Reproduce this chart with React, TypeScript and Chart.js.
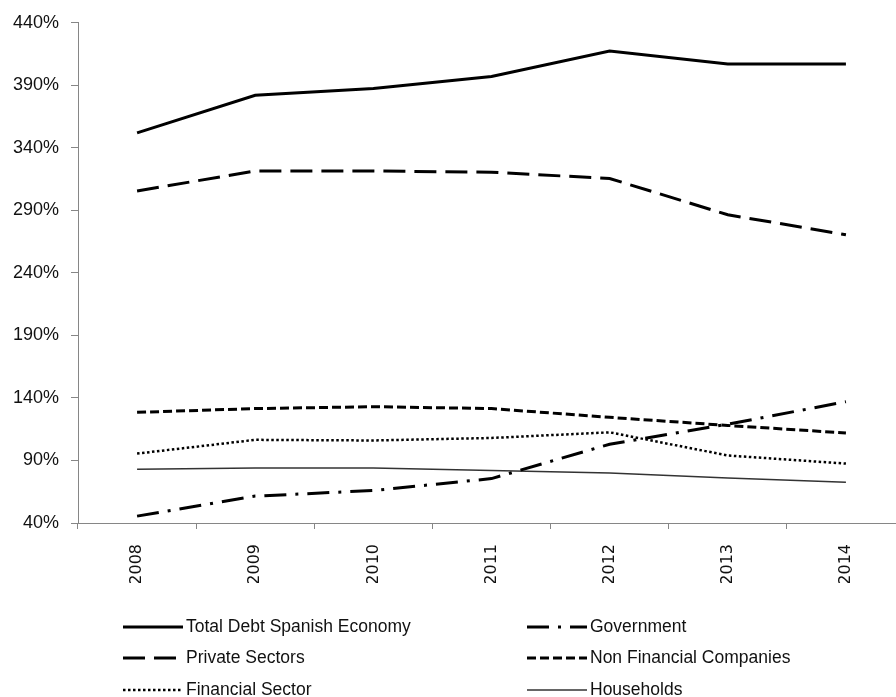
import { useEffect, useRef } from 'react';
import { Chart, registerables } from 'chart.js';

Chart.register(...registerables);

const years = ['2008', '2009', '2010', '2011', '2012', '2013', '2014'];
const totalDebt = [352, 382, 387.5, 397, 417.5, 407, 407];
const government = [45.5, 61.5, 66, 75.5, 103, 119, 137];
const privateSectors = [305.5, 321.5, 321.5, 320.5, 315.5, 286.5, 270.5];
const nonFinancial = [128.5, 131.5, 133, 131.5, 124.5, 118, 112];
const financial = [95.5, 106.5, 106, 108, 112.5, 94, 87.5];
const households = [83, 84, 84, 82, 80, 76, 72.5];

const seriesNames = [
  'Total Debt Spanish Economy',
  'Government',
  'Private Sectors',
  'Non Financial Companies',
  'Financial Sector',
  'Households',
];
const yTicks = [40, 90, 140, 190, 240, 290, 340, 390, 440];

const labelFont = '"Liberation Sans", Arial, sans-serif';

const legendPlugin = {
  id: 'customLegend',
  afterDraw(chart: any) {
    const ctx = chart.ctx as CanvasRenderingContext2D;
    const colLine = [123, 527];
    const rowY = [627, 658, 690];
    ctx.save();
    chart.data.datasets.forEach((ds: any, i: number) => {
      const col = i % 2;
      const row = Math.floor(i / 2);
      const x0 = colLine[col];
      const y = rowY[row];
      ctx.beginPath();
      ctx.setLineDash(ds.borderDash || []);
      ctx.lineWidth = ds.borderWidth;
      ctx.strokeStyle = ds.borderColor;
      ctx.lineCap = 'butt';
      ctx.moveTo(x0, y);
      ctx.lineTo(x0 + 60, y);
      ctx.stroke();
      ctx.setLineDash([]);
      ctx.fillStyle = '#111';
      ctx.font = `17.5px ${labelFont}`;
      ctx.textBaseline = 'middle';
      ctx.textAlign = 'left';
      ctx.fillText(ds.label, x0 + 63, y);
    });
    ctx.restore();
  },
};

export default function App() {
  const ref = useRef<HTMLCanvasElement>(null);
  useEffect(() => {
    document.body.style.margin = '0';
    const chart = new Chart(ref.current!, {
      type: 'line',
      data: {
        labels: years,
        datasets: [
          { label: seriesNames[0], data: totalDebt, borderColor: '#000', borderWidth: 3, borderDash: [] },
          { label: seriesNames[1], data: government, borderColor: '#000', borderWidth: 3, borderDash: [22, 9, 3, 9] },
          { label: seriesNames[2], data: privateSectors, borderColor: '#000', borderWidth: 3, borderDash: [22, 9] },
          { label: seriesNames[3], data: nonFinancial, borderColor: '#000', borderWidth: 3, borderDash: [9, 4] },
          { label: seriesNames[4], data: financial, borderColor: '#000', borderWidth: 2.5, borderDash: [2.5, 2.5] },
          { label: seriesNames[5], data: households, borderColor: '#333', borderWidth: 1.5, borderDash: [] },
        ].map((d) => ({ ...d, pointRadius: 0, fill: false, tension: 0 })),
      },
      options: {
        animation: false,
        responsive: false,
        maintainAspectRatio: false,
        layout: { padding: { left: 4, top: 20, right: 0, bottom: 114 } },
        plugins: { legend: { display: false }, tooltip: { enabled: false } },
        scales: {
          x: {
            offset: true,
            grid: { offset: true, drawOnChartArea: false, drawTicks: true, tickLength: 6, color: '#868686' },
            border: { color: '#868686' },
            ticks: {
              autoSkip: false,
              minRotation: 90,
              maxRotation: 90,
              padding: 15,
              color: '#111',
              font: { family: 'DejaVu Sans', size: 16 },
            },
            afterFit: (s: any) => {
              s.height = 60;
            },
          },
          y: {
            min: 40,
            max: 440,
            afterBuildTicks: (s: any) => {
              s.ticks = yTicks.map((v) => ({ value: v }));
            },
            grid: { drawOnChartArea: false, drawTicks: true, tickLength: 7, color: '#868686' },
            border: { color: '#868686' },
            ticks: {
              padding: 12,
              color: '#111',
              font: { family: labelFont, size: 18 },
              callback: (v: any) => `${v}%`,
            },
            afterFit: (s: any) => {
              s.width = 74;
            },
          },
        },
      },
      plugins: [legendPlugin],
    });
    return () => chart.destroy();
  }, []);
  return (
    <div style={{ width: 896, height: 697, overflow: 'hidden', background: '#fff' }}>
      <canvas ref={ref} width={905} height={697} style={{ display: 'block' }} />
    </div>
  );
}
